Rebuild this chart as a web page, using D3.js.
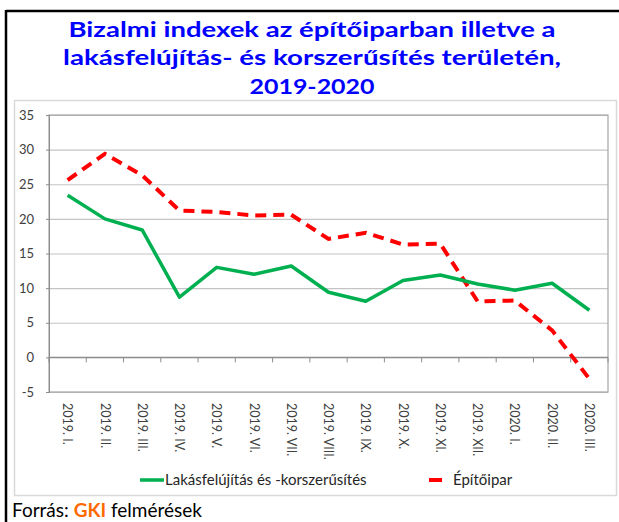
<!DOCTYPE html>
<html>
<head>
<meta charset="utf-8">
<script src="https://cdn.jsdelivr.net/npm/d3@7"></script>
<style>
  body { margin: 0; background: #fff; }
  svg { display: block; }
  text { font-family: Lato, "Open Sans", sans-serif; }
</style>
</head>
<body>
<svg width="619" height="522"></svg>
<script>
var periods = ['2019. I.', '2019. II.', '2019. III.', '2019. IV.', '2019. V.', '2019. VI.', '2019. VII.',
  '2019. VIII.', '2019. IX.', '2019. X.', '2019. XI.', '2019. XII.', '2020. I.', '2020. II.', '2020. III.'];
var lakas = [23.4, 20.0, 18.4, 8.7, 13.0, 12.0, 13.2, 9.4, 8.1, 11.1, 11.9, 10.6, 9.7, 10.7, 6.8];
var epito = [25.6, 29.4, 26.3, 21.2, 21.0, 20.5, 20.6, 17.1, 18.0, 16.3, 16.4, 8.1, 8.2, 3.9, -3.1];
var yTicks = [-5, 0, 5, 10, 15, 20, 25, 30, 35];
var titleLines = ['Bizalmi indexek az építőiparban illetve a',
  'lakásfelújítás- és korszerűsítés területén,', '2019-2020'];
var titleWidths = [487, 498, 125];

var svg = d3.select('svg');

// outer frame (black, top + left)
svg.append('line').attr('x1', 6).attr('y1', 11).attr('x2', 619).attr('y2', 11)
  .attr('stroke', '#000').attr('stroke-width', 2.5);
svg.append('line').attr('x1', 6).attr('y1', 10).attr('x2', 6).attr('y2', 522)
  .attr('stroke', '#000').attr('stroke-width', 2.5);

// title
svg.selectAll('.title')
  .data(titleLines)
  .enter()
  .append('text')
  .attr('class', 'title')
  .attr('x', 312)
  .attr('y', (d, i) => 36.5 + i * 28.5)
  .attr('text-anchor', 'middle')
  .attr('font-family', '"Open Sans", Lato, sans-serif')
  .attr('font-size', 21)
  .attr('font-weight', 'bold')
  .attr('fill', '#0000ff')
  .attr('textLength', (d, i) => titleWidths[i])
  .attr('lengthAdjust', 'spacingAndGlyphs')
  .text(d => d);

// chart box
svg.append('rect').attr('x', 14.5).attr('y', 100.5).attr('width', 602).attr('height', 395)
  .attr('fill', 'none').attr('stroke', '#d9d9d9').attr('stroke-width', 1.5);

var plotLeft = 49, plotRight = 608, plotTop = 115, plotBottom = 392;

var xScale = d3.scalePoint()
  .domain(periods)
  .range([plotLeft, plotRight])
  .padding(0.5);

var yScale = d3.scaleLinear()
  .domain([-5, 35])
  .range([plotBottom, plotTop]);

var chart = svg.append('g');

// horizontal grid
chart.append('g')
  .attr('class', 'grid')
  .attr('transform', `translate(${plotLeft}, 0)`)
  .call(d3.axisLeft(yScale)
    .tickValues(yTicks)
    .tickSize(-(plotRight - plotLeft))
    .tickFormat('')
  )
  .call(g => g.select('.domain').remove())
  .call(g => g.selectAll('line').attr('stroke', '#c4c4c4').attr('stroke-width', 1.2));

// plot border
chart.append('rect')
  .attr('x', plotLeft).attr('y', plotTop)
  .attr('width', plotRight - plotLeft).attr('height', plotBottom - plotTop)
  .attr('fill', 'none').attr('stroke', '#a6a6a6').attr('stroke-width', 1.2);

// y axis
chart.append('g')
  .attr('transform', `translate(${plotLeft}, 0)`)
  .call(d3.axisLeft(yScale).tickValues(yTicks).tickSize(3).tickPadding(12)
    .tickFormat(d => String(d)))
  .call(g => g.select('.domain').attr('stroke', '#8c8c8c'))
  .call(g => g.selectAll('line').attr('stroke', '#8c8c8c'))
  .call(g => g.selectAll('text')
    .attr('font-family', 'Lato, sans-serif')
    .attr('font-size', 13)
    .attr('fill', '#404040'));

// x axis on the zero line, ticks between categories
var step = xScale.step();
var bounds = d3.range(periods.length + 1).map(i => plotLeft + i * step);
var xAxis = chart.append('g');
xAxis.append('line')
  .attr('x1', plotLeft).attr('x2', plotRight)
  .attr('y1', yScale(0)).attr('y2', yScale(0))
  .attr('stroke', '#8c8c8c').attr('stroke-width', 1.2);
xAxis.selectAll('.xtick')
  .data(bounds)
  .enter()
  .append('line')
  .attr('x1', d => d).attr('x2', d => d)
  .attr('y1', yScale(0)).attr('y2', yScale(0) + 5)
  .attr('stroke', '#8c8c8c');

// category labels, rotated
chart.selectAll('.xlabel')
  .data(periods)
  .enter()
  .append('text')
  .attr('class', 'xlabel')
  .attr('transform', d => `translate(${xScale(d)}, 403) rotate(90)`)
  .attr('dy', '0.35em')
  .attr('font-size', 12.5)
  .attr('fill', '#404040')
  .text(d => d);

var line = d3.line()
  .x((d, i) => xScale(periods[i]))
  .y(d => yScale(d));

chart.append('path')
  .datum(epito)
  .attr('d', line)
  .attr('fill', 'none')
  .attr('stroke', '#ff0000')
  .attr('stroke-width', 4)
  .attr('stroke-dasharray', '11,7');

chart.append('path')
  .datum(lakas)
  .attr('d', line)
  .attr('fill', 'none')
  .attr('stroke', '#00b050')
  .attr('stroke-width', 3.5)
  .attr('stroke-linejoin', 'round');

// legend
var legend = svg.append('g');
legend.append('line')
  .attr('x1', 140).attr('x2', 164).attr('y1', 480).attr('y2', 480)
  .attr('stroke', '#00b050').attr('stroke-width', 3.5);
legend.append('text')
  .attr('x', 165).attr('y', 485)
  .attr('font-size', 15).attr('fill', '#262626')
  .text('Lakásfelújítás és -korszerűsítés');
legend.append('line')
  .attr('x1', 429).attr('x2', 442).attr('y1', 480).attr('y2', 480)
  .attr('stroke', '#ff0000').attr('stroke-width', 4);
legend.append('text')
  .attr('x', 453).attr('y', 485)
  .attr('font-size', 15).attr('fill', '#262626')
  .text('Építőipar');

// source
var src = svg.append('text')
  .attr('x', 12).attr('y', 517)
  .attr('font-size', 19).attr('fill', '#000');
src.append('tspan').text('Forrás: ');
src.append('tspan').attr('fill', '#ff6a00').attr('font-weight', 'bold').text('GKI');
src.append('tspan').text(' felmérések');
</script>
</body>
</html>
